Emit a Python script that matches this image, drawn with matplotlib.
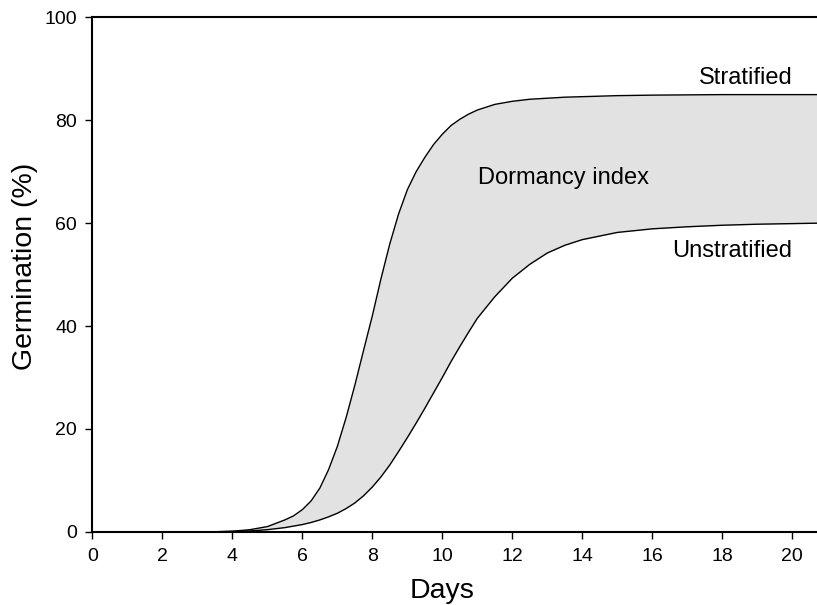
import matplotlib
matplotlib.use("Agg")
import matplotlib.pyplot as plt

plt.rcParams["font.family"] = ["Liberation Sans", "DejaVu Sans"]

# values
days = [3.5, 4, 4.5, 5, 5.5, 5.75, 6, 6.25, 6.5, 6.75, 7, 7.25, 7.5, 7.75, 8,
        8.25, 8.5, 8.75, 9, 9.25, 9.5, 9.75, 10, 10.25, 10.5, 10.75, 11,
        11.5, 12, 12.5, 13, 13.5, 14, 15, 16, 17, 18, 19, 20.71]
stratified = [0, 0.1, 0.4, 1.0, 2.3, 3.1, 4.3, 6.0, 8.5, 12.1, 16.6, 22.2,
              28.5, 35.3, 42, 49.3, 56, 61.8, 66.5, 70, 72.8, 75.3, 77.3,
              79, 80.2, 81.2, 82, 83.1, 83.7, 84.1, 84.3, 84.5, 84.6, 84.8,
              84.9, 84.95, 85, 85, 85]
unstratified = [0, 0.05, 0.15, 0.4, 0.8, 1.1, 1.4, 1.8, 2.3, 2.9, 3.6, 4.5,
                5.6, 7.0, 8.7, 10.7, 13, 15.6, 18.3, 21.1, 24, 27, 30, 33.1,
                36, 38.8, 41.5, 45.7, 49.3, 52, 54.2, 55.7, 56.8, 58.2, 58.9,
                59.3, 59.6, 59.8, 60]

x_ticks = list(range(0, 21, 2))
y_ticks = list(range(0, 101, 20))

fig = plt.figure(figsize=(8.17, 6.05), dpi=100)
ax = fig.add_axes([0.1132, 0.1211, 0.8868, 0.8500])

ax.fill_between(days, unstratified, stratified, color="#e2e2e2", linewidth=0)
ax.plot(days, stratified, color="black", linewidth=1.0)
ax.plot(days, unstratified, color="black", linewidth=1.0)

ax.text(20, 87.1, "Stratified", ha="right", va="baseline", fontsize=17)
ax.text(20, 53.5, "Unstratified", ha="right", va="baseline", fontsize=17)
ax.text(13.47, 67.6, "Dormancy index", ha="center", va="baseline", fontsize=17)

ax.set_xlim(0, 20.71)
ax.set_ylim(0, 100)
ax.set_xticks(x_ticks)
ax.set_yticks(y_ticks)
ax.tick_params(direction="out", length=5, width=1, labelsize=14, pad=6)
ax.tick_params(axis="x", pad=7)

for side in ["left", "bottom", "top"]:
    ax.spines[side].set_linewidth(1.5)
ax.spines["right"].set_visible(False)

ax.set_xlabel("Days", fontsize=20.5)
ax.set_ylabel("Germination (%)", fontsize=20.5)
# label positions (axes fraction)
ax.xaxis.set_label_coords(0.4824, -0.115, transform=ax.transAxes)
ax.yaxis.set_label_coords(-0.0932, 0.516, transform=ax.transAxes)
ax.xaxis.label.set_va("center")
ax.yaxis.label.set_va("center")

fig.savefig("out.png", dpi=100)
